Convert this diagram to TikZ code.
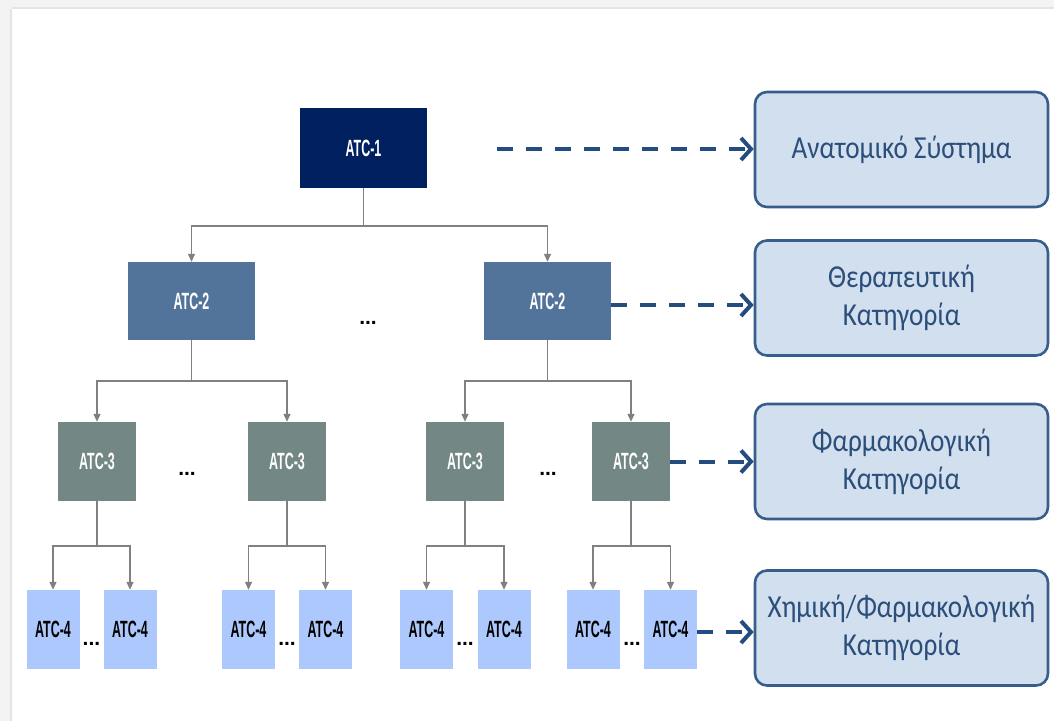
\documentclass[tikz,border=0pt]{standalone}
\usepackage{fontspec}
\setmainfont{Carlito}
\newfontfamily\lblfont[FakeStretch=0.53]{Liberation Sans}
\newfontfamily\dotfont{Liberation Sans}
\newfontfamily\grfont[FakeStretch=0.85]{Carlito}
\usetikzlibrary{arrows.meta}

\definecolor{atcone}{HTML}{002060}
\definecolor{atctwo}{HTML}{52749A}
\definecolor{atcthree}{HTML}{738784}
\definecolor{atcfour}{HTML}{ADC8FC}
\definecolor{catfill}{HTML}{D2DFEE}
\definecolor{catborder}{HTML}{375D8B}
\definecolor{cattext}{HTML}{2B4E7B}
\definecolor{dashblue}{HTML}{244C7E}
\definecolor{conngray}{HTML}{808080}
\definecolor{frameband}{HTML}{F3F3F3}
\definecolor{frameline}{HTML}{E4E4E4}

\begin{document}
\begin{tikzpicture}[x=1pt,y=-1pt,
  atc/.style={inner sep=0pt, font=\lblfont\bfseries\fontsize{23.5}{26}\selectfont, text=white},
  lvlone/.style={atc, fill=atcone, minimum width=127pt, minimum height=80pt},
  lvltwo/.style={atc, fill=atctwo, minimum width=127pt, minimum height=78pt},
  lvlthree/.style={atc, fill=atcthree, minimum width=78pt, minimum height=79pt},
  lvlfour/.style={atc, fill=atcfour, text=black, minimum width=53pt, minimum height=79pt},
  cat/.style={draw=catborder, line width=2.6pt, fill=catfill, rounded corners=12pt,
    minimum width=293pt, minimum height=115pt, align=center, inner sep=0pt,
    font=\grfont\fontsize{32}{38}\selectfont, text=cattext},
  more/.style={inner sep=0pt, anchor=base, font=\dotfont\bfseries\fontsize{21}{24}\selectfont},
  conn/.style={draw=conngray, line width=1.3pt, -{Triangle[length=8pt,width=7pt]}},
  levelarrow/.style={draw=dashblue, line width=4pt, dash pattern=on 16pt off 13pt,
    -{Straight Barb[length=10pt,width=22pt]}}
]
\useasboundingbox (0,0) rectangle (1054,721);

% page frame along the top and left edges
\fill[frameband] (0,0) rectangle (1054,9);
\fill[frameband] (0,0) rectangle (12,721);
\draw[frameline, line width=2pt] (12,7.5) -- (1054,7.5);
\draw[frameline, line width=2pt] (10.5,9) -- (10.5,721);

% level 1
\node[lvlone] (a1) at (363.5,148) {ATC-1};

% level 2
\node[lvltwo] (b1) at (191.5,301) {ATC-2};
\node[lvltwo] (b2) at (547.5,301) {ATC-2};
\node[more] (mb) at (368,324) {...};

% level 3
\node[lvlthree] (c1) at (97,461.5) {ATC-3};
\node[lvlthree] (c2) at (287,461.5) {ATC-3};
\node[lvlthree] (c3) at (465,461.5) {ATC-3};
\node[lvlthree] (c4) at (631,461.5) {ATC-3};
\node[more] (mc1) at (187,475) {...};
\node[more] (mc2) at (548,475) {...};

% level 4
\foreach \n/\x in {d1/53,d2/130,d3/248.5,d4/325.5,d5/426.5,d6/504,d7/593,d8/670.5}
  \node[lvlfour] (\n) at (\x,629.5) {ATC-4};
\node[more] (md1) at (91.5,645) {...};
\node[more] (md2) at (287,645) {...};
\node[more] (md3) at (465,645) {...};
\node[more] (md4) at (632,645) {...};

% bus lines of the tree
\coordinate (busa) at (0,226);
\coordinate (busb) at (0,381);
\coordinate (busc) at (0,546);

\foreach \c in {b1,b2}
  \draw[conn] (a1.south) -- (a1.south |- busa) -| (\c.north);
\foreach \p/\c in {b1/c1,b1/c2,b2/c3,b2/c4}
  \draw[conn] (\p.south) -- (\p.south |- busb) -| (\c.north);
\foreach \p/\c in {c1/d1,c1/d2,c2/d3,c2/d4,c3/d5,c3/d6,c4/d7,c4/d8}
  \draw[conn] (\p.south) -- (\p.south |- busc) -| (\c.north);

% category boxes
\node[cat] (k1) at (901.5,149.5) {Ανατομικό Σύστημα};
\node[cat] (k2) at (901.5,298) {Θεραπευτική\\Κατηγορία};
\node[cat] (k3) at (901.5,461.5) {Φαρμακολογική\\Κατηγορία};
\node[cat] (k4) at (901.5,628) {Χημική/Φαρμακολογική\\Κατηγορία};

% level arrows
\coordinate (s1) at (497,149);
\draw[levelarrow] (s1) -- (s1 -| k1.west);
\draw[levelarrow] ([yshift=-4pt]b2.east) -- ([yshift=-4pt]b2.east -| k2.west);
\draw[levelarrow] (c4.east) -- (c4.east -| k3.west);
\draw[levelarrow] ([yshift=-2.5pt]d8.east) -- ([yshift=-2.5pt]d8.east -| k4.west);
\end{tikzpicture}
\end{document}
